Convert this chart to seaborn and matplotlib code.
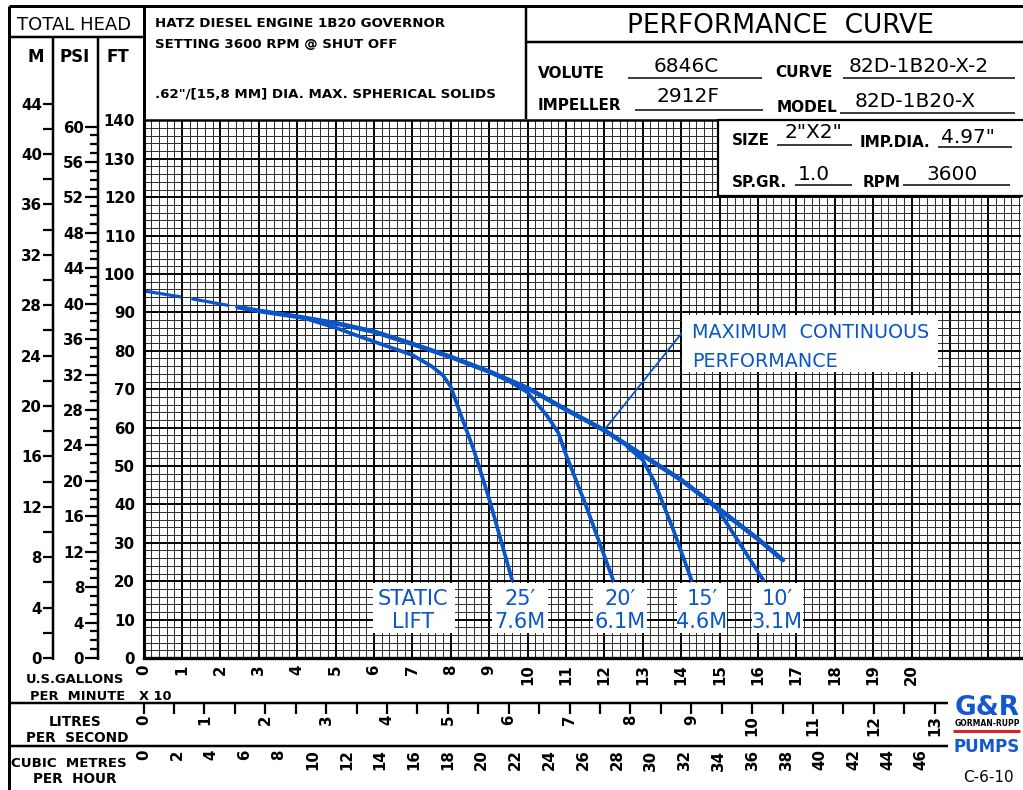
import matplotlib
matplotlib.use("Agg")
import matplotlib.pyplot as plt
from matplotlib.patches import Rectangle
from matplotlib.ticker import FixedLocator, MultipleLocator
import seaborn as sns

# ---------------- data ----------------
gpm_ticks = list(range(0, 21))          # U.S. gallons per minute x 10
ft_ticks = list(range(0, 141, 10))
m_ticks = list(range(0, 45, 4))
psi_ticks = list(range(0, 61, 4))
lps_ticks = list(range(0, 14))
m3h_ticks = list(range(0, 47, 2))

# performance curves: flow (GPM x 10) vs total head (ft)
shutoff_flow = [0.0, 1.0, 2.0, 2.45]
shutoff_head = [95.6, 94.0, 92.2, 91.4]
max_flow = [2.45, 3, 4, 5, 6, 7, 8, 9, 10, 11, 12, 13, 14, 15, 16, 16.65]
max_head = [91.4, 90.4, 88.9, 87.2, 85.0, 81.8, 78.4, 74.6, 70.3, 64.7, 59.3, 52.8, 46.4, 38.7, 31.0, 25.5]
lift25_flow = [4.1, 5, 6, 7, 7.5, 7.8, 8.0, 8.25, 8.6, 9.0, 9.6]
lift25_head = [88.8, 86.0, 82.4, 78.9, 76.0, 73.6, 70.7, 63.7, 54.2, 41.5, 20.3]
lift20_flow = [9.0, 9.5, 10.0, 10.5, 10.8, 11.0, 11.5, 12.23]
lift20_head = [74.6, 72.2, 69.2, 63.2, 58.7, 53.0, 40.3, 20.3]
lift15_flow = [12.6, 13.0, 13.3, 13.8, 14.27]
lift15_head = [55.0, 51.6, 46.0, 33.3, 20.3]
lift10_flow = [14.6, 14.95, 15.4, 16.14]
lift10_head = [41.6, 38.8, 31.8, 20.3]

lift_top = ["STATIC", "25′", "20′", "15′", "10′"]
lift_bottom = ["LIFT", "7.6M", "6.1M", "4.6M", "3.1M"]

BLUE = "#0a55c8"
NUM = dict(labelsize=10.8)

sns.set_theme(style="white")
plt.rcParams["font.family"] = ["DejaVu Sans"]
for k in ["text.color", "axes.labelcolor", "xtick.color", "ytick.color"]:
    plt.rcParams[k] = "black"

W, H = 1023, 790
fig = plt.figure(figsize=(W / 100, H / 100), dpi=100)
fig.patch.set_facecolor("white")


def fr(x0, y0, x1, y1):
    return [x0 / W, 1 - y1 / H, (x1 - x0) / W, (y1 - y0) / H]


PX0, PX1, PY0, PY1 = 143.5, 1021.0, 120.4, 658.0
PXU = 38.4
XMAX = (PX1 - PX0) / PXU
YMAX = (PY1 - PY0) / PXU * 10


def dx(px):
    return (px - PX0) / PXU


def dy(py):
    return (PY1 - py) / PXU * 10


def bold_labels(a):
    for t in a.get_xticklabels() + a.get_yticklabels():
        t.set_fontweight("bold")


# ---------------- main grid axes ----------------
ax = fig.add_axes(fr(PX0, PY0, PX1, PY1))
ax.set_xlim(0, XMAX)
ax.set_ylim(0, YMAX)
ax.set_axisbelow(True)
ax.set_facecolor("white")
allx = list(range(0, 23))
ax.set_xticks(allx)
ax.set_xticklabels([str(t) if t in gpm_ticks else "" for t in allx])
ax.set_yticks(ft_ticks)
ax.set_yticklabels([str(t) for t in ft_ticks])
ax.xaxis.set_minor_locator(MultipleLocator(0.2))
ax.yaxis.set_minor_locator(MultipleLocator(2))
ax.grid(True, which="major", color="black", linewidth=1.4)
ax.grid(True, which="minor", color="#2a2a2a", linewidth=0.7)
ax.tick_params(axis="x", which="both", length=0, pad=4.5, labelrotation=90, **NUM)
ax.tick_params(axis="y", which="both", length=0, pad=6, **NUM)
bold_labels(ax)
ax.spines["right"].set_visible(False)
for s, lw in [("left", 2.2), ("bottom", 2.4), ("top", 1.8)]:
    ax.spines[s].set_color("black")
    ax.spines[s].set_linewidth(lw)

curves = [
    (lift25_flow, lift25_head, 2.7, "-"),
    (lift20_flow, lift20_head, 2.7, "-"),
    (lift15_flow, lift15_head, 2.7, "-"),
    (lift10_flow, lift10_head, 2.7, "-"),
    (max_flow, max_head, 3.4, "-"),
    (shutoff_flow, shutoff_head, 2.3, (0, (12, 3.2))),
]
for f, h, lw, ls in curves:
    sns.lineplot(x=f, y=h, ax=ax, color=BLUE, linewidth=lw, linestyle=ls,
                 sort=False, estimator=None, legend=False)

# pointer + label of max continuous performance
ax.plot([12.0, dx(685), dx(690)], [59.4, dy(329), dy(329)], color=BLUE, lw=1.3)
ax.add_patch(Rectangle((dx(682), dy(372)), dx(938) - dx(682), dy(315) - dy(372),
                       facecolor="white", edgecolor="none", zorder=3))
ax.text(dx(692), dy(338), "MAXIMUM  CONTINUOUS", color=BLUE, fontsize=13.8, zorder=4,
        ha="left", va="baseline")
ax.text(dx(692), dy(367), "PERFORMANCE", color=BLUE, fontsize=13.8, zorder=4,
        ha="left", va="baseline")

# static lift labels
lift_boxes = [(373, 455, 413), (492, 548, 520), (593, 647, 620), (677, 727, 702), (752, 803, 777)]
for (b0, b1, c), t1, t2 in zip(lift_boxes, lift_top, lift_bottom):
    ax.add_patch(Rectangle((dx(b0), dy(633)), dx(b1) - dx(b0), dy(583) - dy(633),
                           facecolor="white", edgecolor="none", zorder=3))
    ax.text(dx(c), dy(605), t1, color=BLUE, fontsize=15, ha="center", va="baseline", zorder=4)
    ax.text(dx(c), dy(628), t2, color=BLUE, fontsize=15, ha="center", va="baseline", zorder=4)

# ---------------- side scales ----------------
FT_PER_M = 3.28084
FT_PER_PSI = 2.30666


def vscale(xpx, unit_ft, major, minor, lmaj, lmin):
    a = fig.add_axes(fr(xpx, 37, xpx + 0.3, PY1))
    a.set_ylim(0, (PY1 - 37) / PXU * 10 / unit_ft)
    a.set_xticks([])
    a.set_yticks(major)
    a.set_yticklabels([str(t) for t in major])
    a.yaxis.set_minor_locator(FixedLocator(minor))
    a.tick_params(axis="y", which="major", left=True, direction="out", length=lmaj,
                  width=1.6, color="black", pad=0.5, **NUM)
    a.tick_params(axis="y", which="minor", left=True, direction="out", length=lmin,
                  width=1.6, color="black")
    bold_labels(a)
    for s in a.spines.values():
        s.set_visible(False)
    a.patch.set_alpha(0)
    return a


vscale(53, FT_PER_M, m_ticks, list(range(2, 45, 4)), 7.5, 7.5)
vscale(98, FT_PER_PSI, psi_ticks, list(range(0, 61)), 9.5, 6)

GPM_PER_LPS = 1.58503
GPM_PER_M3H = 0.440287


def hscale(ypx, unit, major, minor, length, pad):
    a = fig.add_axes(fr(PX0, ypx - 0.3, PX1, ypx))
    a.set_xlim(0, XMAX / unit)
    a.set_yticks([])
    a.set_xticks(major)
    a.set_xticklabels([str(t) for t in major])
    if minor:
        a.xaxis.set_minor_locator(FixedLocator(minor))
    a.tick_params(axis="x", which="both", bottom=True, direction="out", length=length,
                  width=1.6, color="black", pad=pad, labelrotation=90, **NUM)
    bold_labels(a)
    for s in a.spines.values():
        s.set_visible(False)
    a.patch.set_alpha(0)
    return a


hscale(703, GPM_PER_LPS, lps_ticks, [i + 0.5 for i in range(13)], 8, 0.5)
hscale(746, GPM_PER_M3H, m3h_ticks, None, 0, 2.5)

# ---------------- overlay: frame, header, text ----------------
ov = fig.add_axes([0, 0, 1, 1], zorder=5)
ov.set_xlim(0, W)
ov.set_ylim(H, 0)
ov.axis("off")
ov.patch.set_alpha(0)


def L(x0, y0, x1, y1, lw=2.0, c="black"):
    ov.plot([x0, x1], [y0, y1], color=c, lw=lw * 0.72, solid_capstyle="butt")


def T(x, y, s, size, ha="left", **kw):
    ov.text(x, y, s, fontsize=size, ha=ha, va="baseline", **kw)


B = dict(fontweight="bold")

L(9, 6, 9, 790, 3)
L(9, 6, 1023, 6, 3)
L(9, 37, 143.5, 37, 2.5)
L(53, 37, 53, 660, 2.5)
L(98, 37, 98, 660, 2.5)
L(143.5, 6, 143.5, 121, 3)
L(526, 6, 526, 119, 2.5)
L(526, 42, 1023, 42, 2.5)
L(9, 703, 948, 703, 2.5)
L(9, 746, 948, 746, 2.5)

ov.add_patch(Rectangle((718, 119.5), 310, 76.5, facecolor="white", edgecolor="black", lw=1.6))

T(74, 30, "TOTAL HEAD", 13, ha="center")
T(36, 62, "M", 12, ha="center", **B)
T(75, 62, "PSI", 12, ha="center", **B)
T(118, 62, "FT", 12, ha="center", **B)

T(155, 27, "HATZ DIESEL ENGINE 1B20 GOVERNOR", 9.6, **B)
T(155, 48, "SETTING 3600 RPM @ SHUT OFF", 9.6, **B)
T(155, 98, '.62"/[15,8 MM] DIA. MAX. SPHERICAL SOLIDS', 9.6, **B)

T(780, 33, "PERFORMANCE  CURVE", 19, ha="center")

T(538, 78, "VOLUTE", 11, **B)
T(686, 72, "6846C", 14.5, ha="center")
L(628, 78, 762, 78, 1.5)
T(775, 77, "CURVE", 11, **B)
T(919, 72, "82D-1B20-X-2", 14.5, ha="center")
L(843, 78, 1015, 78, 1.5)

T(538, 110, "IMPELLER", 11, **B)
T(688, 102, "2912F", 14.5, ha="center")
L(635, 110, 763, 110, 1.5)
T(777, 112, "MODEL", 11, **B)
T(915, 107, "82D-1B20-X", 14.5, ha="center")
L(840, 113, 1015, 113, 1.5)

T(732, 145, "SIZE", 11, **B)
T(813, 138, '2"X2"', 14.5, ha="center")
L(777, 145, 852, 145, 1.5)
T(860, 147, "IMP.DIA.", 11, **B)
T(968, 143, '4.97"', 14.5, ha="center")
L(938, 147, 1012, 147, 1.5)

T(732, 187, "SP.GR.", 11, **B)
T(814, 180, "1.0", 14.5, ha="center")
L(795, 185, 852, 185, 1.5)
T(863, 187, "RPM", 11, **B)
T(952, 180, "3600", 14.5, ha="center")
L(903, 185, 1010, 185, 1.5)

T(75, 683, "U.S.GALLONS", 9.4, ha="center", **B)
T(78, 700, "PER  MINUTE", 9.4, ha="center", **B)
T(155, 700, "X 10", 9.4, ha="center", **B)
T(75, 726, "LITRES", 9.8, ha="center", **B)
T(77, 742, "PER  SECOND", 9.8, ha="center", **B)
T(69, 767, "CUBIC  METRES", 9.6, ha="center", **B)
T(75, 783, "PER  HOUR", 9.8, ha="center", **B)

# logo
T(987, 715, "G&R", 19, ha="center", color="#1458d0", **B)
T(987, 726, "GORMAN-RUPP", 5.5, ha="center", **B)
L(953, 731, 1020, 731, 3, c="#e02020")
T(987, 752, "PUMPS", 12, ha="center", color="#1458d0", **B)
T(988, 782, "C-6-10", 11, ha="center")

fig.savefig("out.png", dpi=100, facecolor="white")
